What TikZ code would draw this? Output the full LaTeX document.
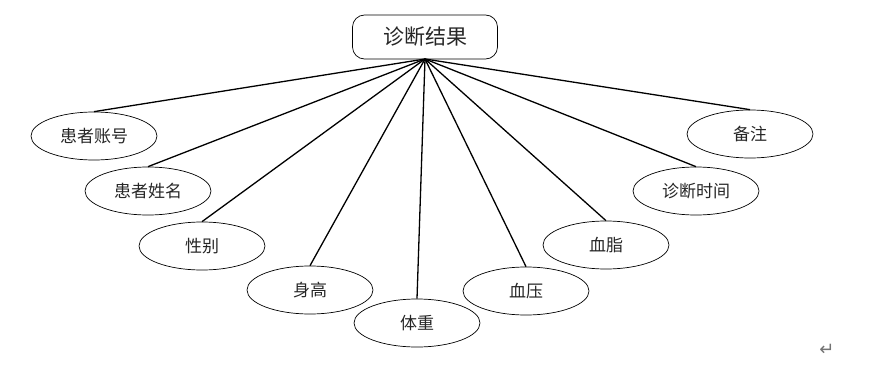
\documentclass[tikz,border=0pt]{standalone}
\usepackage{fontspec}
\newfontfamily\cjk{Noto Sans CJK SC}
\newfontfamily\symfont{DejaVu Sans}
\usetikzlibrary{shapes.geometric}
\begin{document}
\begin{tikzpicture}[x=1pt,y=-1pt,
  attr/.style={draw, ellipse, minimum width=126pt, minimum height=48pt, inner sep=0pt, line width=0.7pt, text=black!85, font=\cjk\fontsize{17}{17}\selectfont},
  ent/.style={draw, rounded corners=12pt, minimum width=145pt, minimum height=44pt, inner sep=0pt, line width=0.7pt, text=black!85, font=\cjk\fontsize{21}{21}\selectfont},
  link/.style={line width=1.3pt}]
\useasboundingbox (0,0) rectangle (891,369);
\node[ent] (top) at (425,37) {诊断结果};
\coordinate (hub) at (425,59);
\node[attr] (a1) at (94,136) {患者账号};
\node[attr] (a2) at (148,191) {患者姓名};
\node[attr] (a3) at (202,246) {性别};
\node[attr] (a4) at (310,290) {身高};
\node[attr] (a5) at (417,323) {体重};
\node[attr] (a6) at (526,291) {血压};
\node[attr] (a7) at (606,245) {血脂};
\node[attr] (a8) at (696,191) {诊断时间};
\node[attr] (a9) at (750,134) {备注};
\foreach \n in {a1,a2,a3,a4,a5,a6,a7,a8,a9}
  \draw[link] (hub) -- (\n.north);
\node[text=black!55, font=\symfont\fontsize{18}{18}\selectfont] (ret) at (827,350) {↵};
\end{tikzpicture}
\end{document}
